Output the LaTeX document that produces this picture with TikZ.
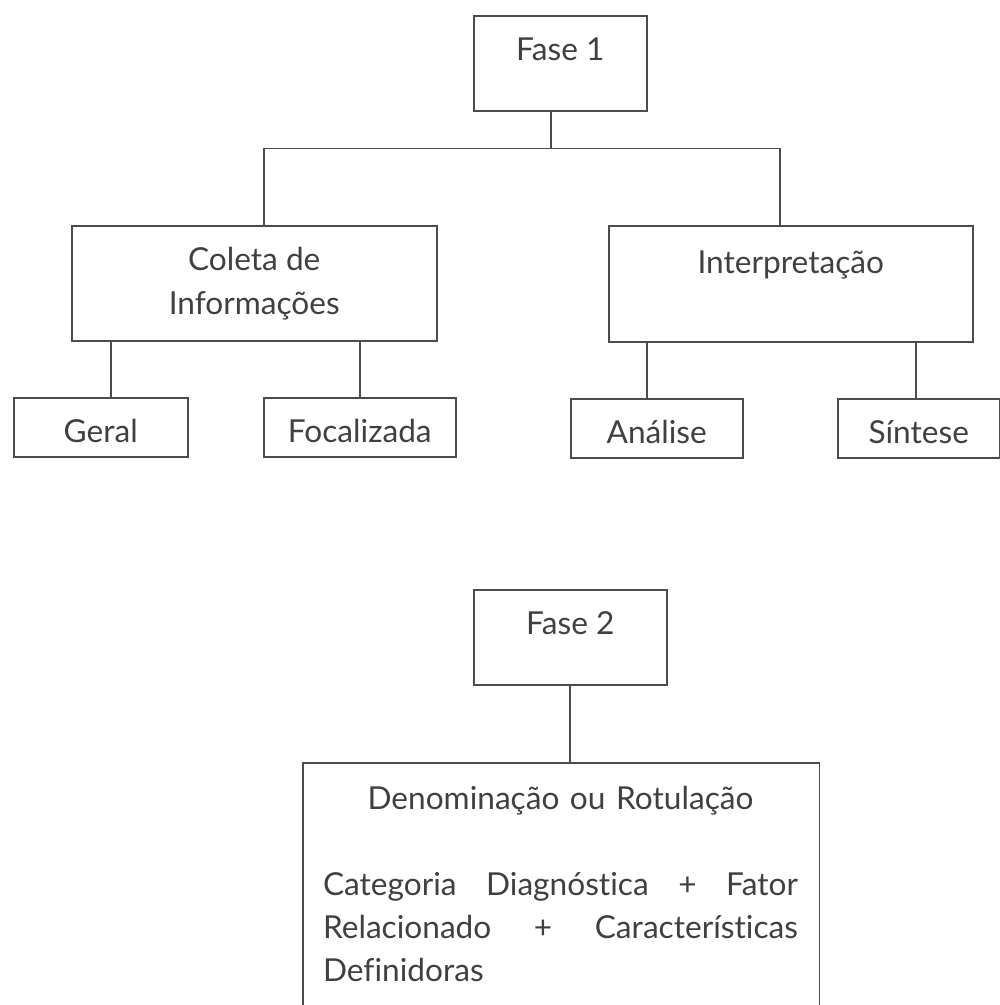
\documentclass[tikz,border=0pt]{standalone}
\usepackage{fontspec}
\setmainfont{Lato}[Ligatures=NoCommon]
\begin{document}
\begin{tikzpicture}[x=0.02cm,y=-0.02cm,font=\fontsize{18}{25}\selectfont,black!75,line width=0.9pt,
		caixa/.style={draw=black!70,anchor=north west,inner xsep=0pt},
		fase/.style={caixa,text height=0.45cm,text depth=0.55cm,inner ysep=0.45cm,minimum width=#1},
		folha/.style={caixa,text height=0.74cm,text depth=0.14cm,inner ysep=0.15cm,minimum width=#1}]
	\useasboundingbox (0,0) rectangle (1000,1005);
	\node (fase1) [fase=3.46cm] at (473,15) {Fase 1};
	\node (coleta) [caixa,align=center,minimum width=7.3cm,minimum height=2.3cm] at (71,225) {Coleta de\\Informações};
	\node (interp) [caixa,text height=0.45cm,text depth=0.87cm,inner ysep=0.5cm,minimum width=7.28cm] at (608,225) {Interpretação};
	\node (geral) [folha=3.48cm] at (13,397) {Geral};
	\node (focal) [folha=3.84cm] at (263,397) {Focalizada};
	\node (analise) [folha=3.44cm] at (570,398) {Análise};
	\node (sintese) [folha=3.24cm] at (837,398) {Síntese};
	\draw[black!70] ([xshift=-0.19cm]fase1.south) -- ++(0,37) coordinate (juncao);
	\draw[black!70] ([xshift=0.19cm]coleta.north) |- (juncao) -| ([xshift=-0.22cm]interp.north);
	\draw[black!70] ([xshift=0.2cm]geral.north) -- ++(0,-57);
	\draw[black!70] (focal.north) -- ++(0,-57);
	\draw[black!70] ([xshift=-0.2cm]analise.north) -- ++(0,-57);
	\draw[black!70] ([xshift=-0.06cm]sintese.north) -- ++(0,-57);
	\node (fase2) [fase=3.86cm] at (473,589) {Fase 2};
	\node (rotulo) [caixa,minimum width=10.34cm,minimum height=5.3cm] at (302,762) {};
	\draw[black!70] (fase2.south) -- (fase2.south |- rotulo.north);
	\node (definicao) [anchor=north,text width=9.5cm,align=left,inner sep=0pt,font=\fontsize{18}{24.6}\selectfont] at (560.5,785) {%
		\hfill Denominação ou Rotulação\hfill\mbox{}\\[24.6pt]
		Categoria\hfill Diagnóstica\hfill +\hfill Fator\\
		Relacionado\hfill +\hfill Características\\
		Definidoras};
\end{tikzpicture}
\end{document}
